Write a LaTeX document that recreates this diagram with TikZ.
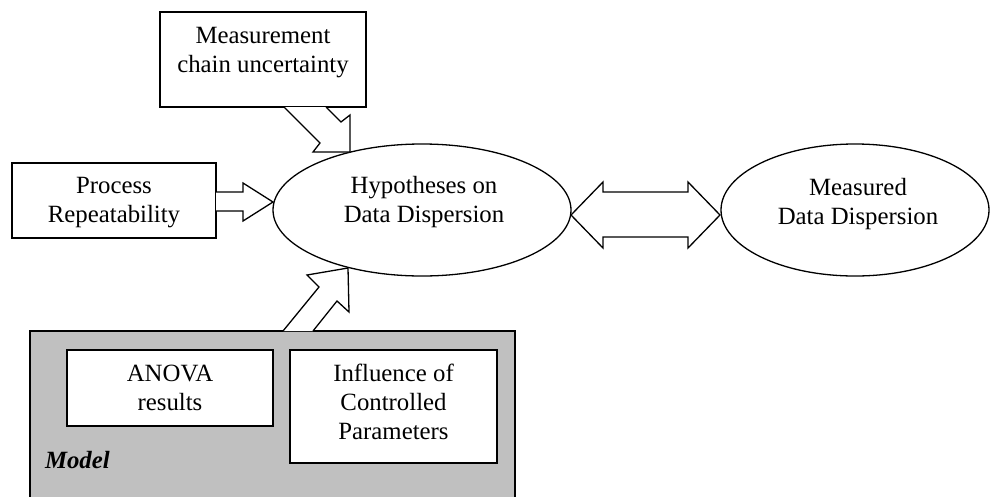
\documentclass[tikz,border=0pt]{standalone}
\usepackage{fontspec}
\setmainfont{Liberation Serif}
\begin{document}
\begin{tikzpicture}[x=1pt,y=-1pt,
  every node/.style={inner sep=0pt, outer sep=0pt},
  boxshape/.style={draw=black, line width=1.3pt, fill=white, rectangle},
  label text/.style={align=center, anchor=base, font=\fontsize{24.8}{29}\selectfont},
  blockarrow/.style={draw=black, line width=1.3pt, fill=white, line join=miter}
]
\useasboundingbox (0,0) rectangle (990,496);
% gray model box
\node[boxshape, fill={rgb,255:red,192;green,192;blue,192}, minimum width=485pt, minimum height=168pt] (model) at (272.5,415) {};
\node[boxshape, minimum width=206pt, minimum height=76pt] (anova) at (170,388) {};
\node[boxshape, minimum width=207pt, minimum height=113pt] (infl) at (393.5,406.5) {};
\node[label text] (anovat) at (170,410) {ANOVA\\results};
\node[label text] (inflt) at (393.5,439) {Influence of\\Controlled\\Parameters};
\node[anchor=base west, font=\fontsize{24.8}{29}\selectfont\bfseries\itshape] (modelt) at (45,468) {Model};
% top box
\node[boxshape, minimum width=206pt, minimum height=95pt] (meas) at (263,59.5) {};
\node[label text] (meast) at (263,72) {Measurement\\chain uncertainty};
% process box
\node[boxshape, minimum width=204pt, minimum height=75pt] (proc) at (114,200.5) {};
\node[label text] (proct) at (114,222) {Process\\Repeatability};
% ellipses
\draw[line width=1.3pt] (422,210) ellipse [x radius=149, y radius=66];
\coordinate (hyp) at (422,210);
\node[label text] (hypt) at (424,222) {Hypotheses on\\Data Dispersion};
\draw[line width=1.3pt] (855,210) ellipse [x radius=134, y radius=66];
\coordinate (measd) at (855,210);
\node[label text] (measdt) at (858,224) {Measured\\Data Dispersion};
% arrows
\draw[blockarrow] (284,107) -- (320,143) -- (313,152) -- (350,152) -- (350,115) -- (341,122) -- (326,107);
\draw[blockarrow] (216,192) -- (243,192) -- (243,183) -- (273,202) -- (243,221) -- (243,211) -- (216,211);
\draw[blockarrow] (283,331) -- (319,287) -- (307,275) -- (348,268) -- (349,312) -- (337,301) -- (313,331);
\draw[blockarrow] (571,215) -- (603,182) -- (603,192) -- (688,192) -- (688,182) -- (720,215) -- (688,248) -- (688,237) -- (603,237) -- (603,248) -- cycle;
\end{tikzpicture}
\end{document}
